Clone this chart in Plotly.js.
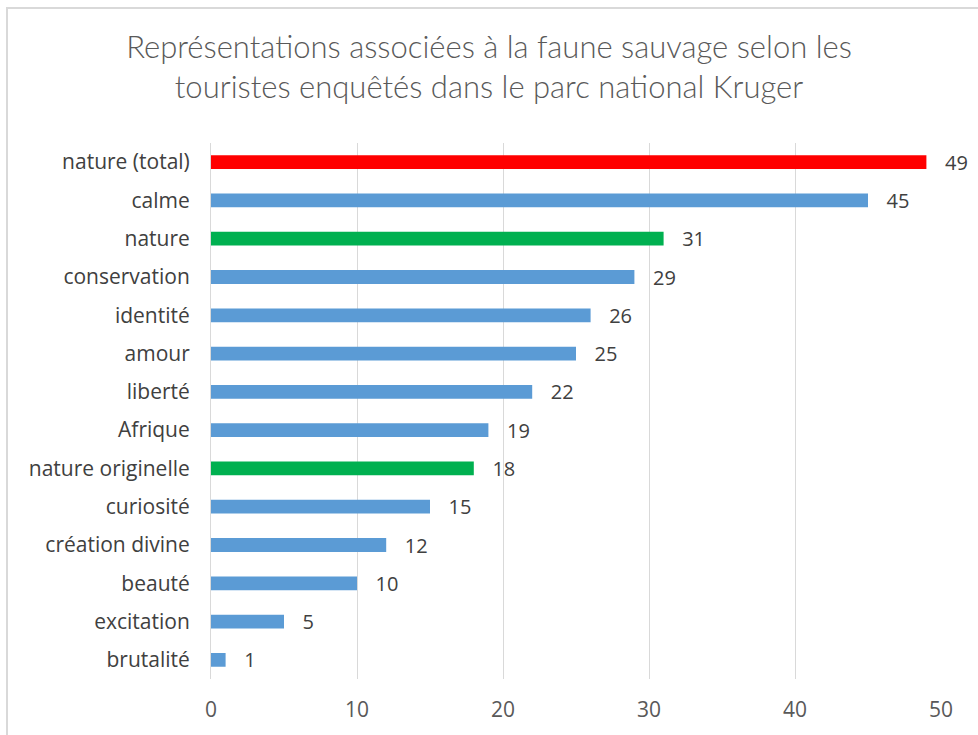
<!DOCTYPE html>
<html>
<head>
<meta charset="utf-8">
<script src="https://cdn.plot.ly/plotly-3.0.1.min.js"></script>
<style>
html,body{margin:0;padding:0;background:#fff;overflow:hidden;}
#frame{position:absolute;left:6px;top:7px;width:1100px;height:900px;border:2px solid #d9d9d9;box-sizing:border-box;}
#chart{position:absolute;left:0;top:0;width:978px;height:735px;}
</style>
</head>
<body>
<div id="frame"></div>
<div id="chart"></div>
<script>
const categories = ["nature (total)","calme","nature","conservation","identité","amour","liberté","Afrique","nature originelle","curiosité","création divine","beauté","excitation","brutalité"];
const values = [49,45,31,29,26,25,22,19,18,15,12,10,5,1];
const barColors = ["#FF0000","#5B9BD5","#00B050","#5B9BD5","#5B9BD5","#5B9BD5","#5B9BD5","#5B9BD5","#00B050","#5B9BD5","#5B9BD5","#5B9BD5","#5B9BD5","#5B9BD5"];
const xTicks = [0,10,20,30,40,50];

const font = "'Open Sans', Lato, sans-serif";
const titleFont = "Lato, 'Open Sans', sans-serif";
Plotly.newPlot('chart', [{
  type:'bar', orientation:'h',
  x: values, y: categories,
  marker:{color:barColors},
  width:0.36,
  text: values.map(v=>'   '+v),
  textposition:'outside',
  constraintext:'none',
  textfont:{family:font,size:20,color:'#404040'},
  cliponaxis:false,
  hoverinfo:'none'
}], {
  width:978, height:735,
  margin:{l:211,r:37,t:143,b:56},
  paper_bgcolor:'rgba(0,0,0,0)', plot_bgcolor:'rgba(0,0,0,0)',
  showlegend:false,
  title:{text:"Représentations associées à la faune sauvage selon les<br>touristes enquêtés dans le parc national Kruger",
    font:{family:titleFont,size:31,weight:300,color:'#595959'}, x:0.5, xanchor:'center', y:0.921, yanchor:'middle'},
  xaxis:{range:[0,50], tickvals:xTicks, showgrid:true, gridcolor:'#d9d9d9', gridwidth:1,
    zeroline:false, showline:false, ticks:'', ticklabelstandoff:16,
    tickfont:{family:font,size:21,color:'#595959'}},
  yaxis:{autorange:'reversed', type:'category', showline:true, linecolor:'#d9d9d9', linewidth:1,
    showgrid:false, ticks:'', ticklabelstandoff:16,
    tickfont:{family:font,size:21,color:'#404040'}},
  bargap:0.64
}, {staticPlot:true});
</script>
</body>
</html>
